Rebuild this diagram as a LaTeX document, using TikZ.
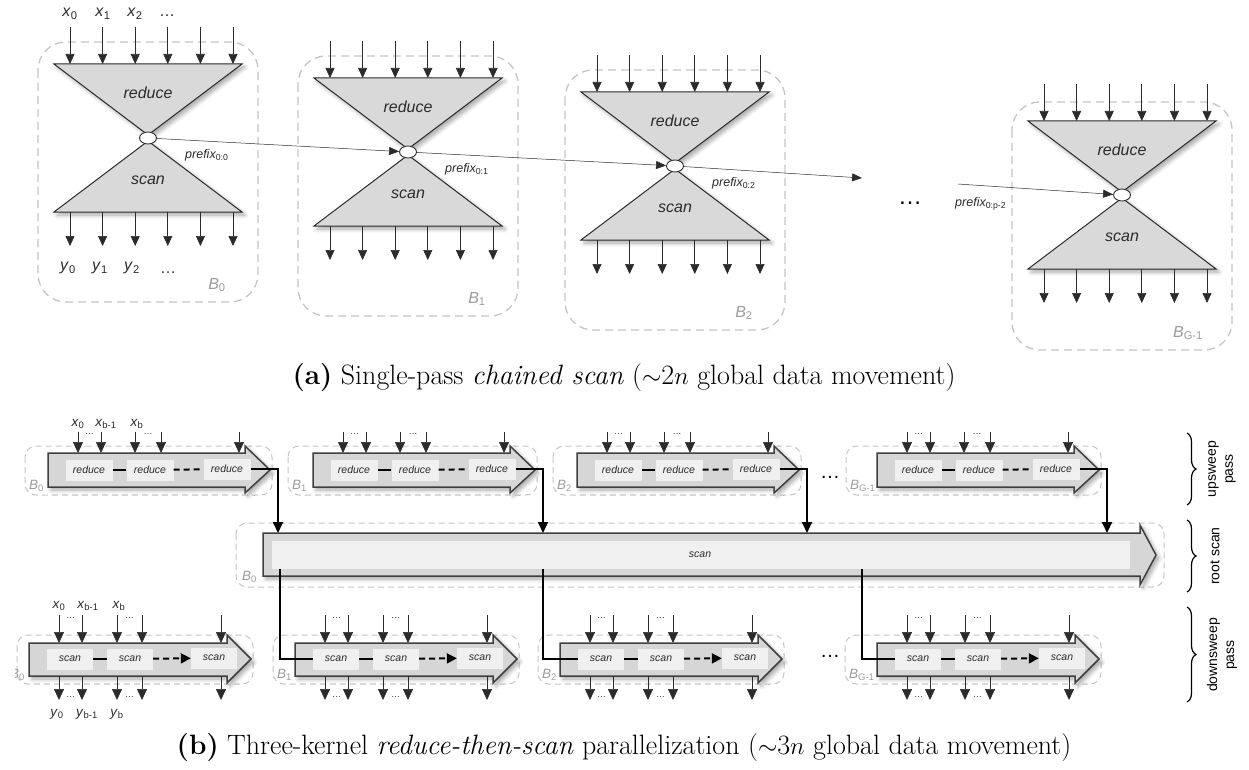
\documentclass[tikz,border=0pt]{standalone}
\usepackage{fontspec}
\newfontfamily\lsans{Liberation Sans}
\usetikzlibrary{arrows.meta,shapes.geometric,decorations.pathreplacing,shadows.blur}

\definecolor{trifill}{HTML}{D9D9D9}
\definecolor{boxgray}{HTML}{C4C4C4}
\definecolor{labgray}{HTML}{9C9C9C}
\definecolor{bodyfill}{HTML}{D6D6D6}
\definecolor{innerfill}{HTML}{F0F0F0}
\definecolor{inkdark}{HTML}{2B2B2B}

\tikzset{
  softshadow/.style={blur shadow={shadow xshift=3pt, shadow yshift=-3pt, shadow blur radius=4pt, shadow blur steps=6, shadow opacity=35}},
  grpA/.style={draw=boxgray, line width=1.3pt, dash pattern=on 8pt off 5pt, rounded corners=28pt},
  grpB/.style={draw=boxgray, line width=1pt, dash pattern=on 6pt off 4pt, rounded corners=11pt},
  tri/.style={fill=trifill, draw=inkdark, line width=1pt, softshadow},
  junction/.style={ellipse, draw=inkdark, fill=white, line width=0.9pt, minimum width=17pt, minimum height=12pt, inner sep=0pt},
  feedA/.style={draw=inkdark, line width=0.7pt, -{Triangle[length=10pt,width=9pt]}},
  chain/.style={draw=inkdark, line width=0.5pt, -{Triangle[length=10pt,width=8pt]}},
  bigit/.style={font=\lsans\itshape\fontsize{16}{19}\selectfont, text=inkdark, inner sep=0pt},
  xlab/.style={font=\lsans\fontsize{16}{19}\selectfont, text=inkdark, inner sep=0pt},
  pflab/.style={font=\lsans\itshape\fontsize{12.5}{14}\selectfont, text=inkdark, inner sep=0pt},
  blabA/.style={font=\lsans\fontsize{16}{19}\selectfont, text=labgray, inner sep=0pt},
  caption/.style={font=\fontsize{28}{34}\selectfont, inner sep=0pt},
  body/.style={fill=bodyfill, draw=black!75, line width=1.5pt, softshadow},
  ibox/.style={rectangle, fill=innerfill, minimum width=47pt, minimum height=21pt, inner sep=0pt, font=\lsans\itshape\fontsize{10.5}{12}\selectfont, text=inkdark},
  feedB/.style={draw=inkdark, line width=0.7pt, -{Triangle[length=11pt,width=10pt]}},
  link/.style={draw=black, line width=2pt},
  dlink/.style={draw=black, line width=2pt, dash pattern=on 6pt off 4pt},
  carry/.style={draw=black, line width=2pt, -{Triangle[length=11pt,width=10pt]}},
  smalllab/.style={font=\lsans\fontsize{13.5}{15}\selectfont, text=inkdark, inner sep=0pt},
  blabB/.style={font=\lsans\fontsize{13.5}{15}\selectfont, text=labgray, inner sep=0pt},
  tinydots/.style={font=\lsans\fontsize{9}{10}\selectfont, text=inkdark, inner sep=0pt},
  gap/.style={font=\lsans\fontsize{20}{22}\selectfont, inner sep=0pt},
  passbrace/.style={draw=black, line width=1.2pt, decorate, decoration={brace, amplitude=9pt}},
  passlab/.style={font=\lsans\fontsize{14}{17}\selectfont, rotate=90, align=center, inner sep=0pt},
}

\begin{document}
\begin{tikzpicture}[x=1pt,y=-1pt]
\useasboundingbox (0,0) rectangle (1249,770);

% ================= (a) single-pass chained scan =================
% \bt/\bb: top and bottom of the dashed block frame, \lx/\ly: block label offset
\foreach \n/\cx/\cy/\sub/\bt/\bb/\lx/\ly in {0/148/138/0/-96/164/69/147, 1/408/152/1/-96/164/69/147, 2/675/166/2/-96/164/69/147, 3/1122/195/G-1/-93/155/66/138}{
  \begin{scope}[shift={(\cx,\cy)}]
    \draw[grpA] (-110,\bt) rectangle (110,\bb);
    \path[tri] (-94,-74) -- (94,-74) -- (0,-3) -- cycle;
    \path[tri] (-94,74) -- (94,74) -- (0,3) -- cycle;
    \node[junction] (c\n) at (0,0) {};
    \node[bigit] (red\n) at (0,-45) {reduce};
    \node[bigit] (scn\n) at (0,42) {scan};
    \foreach \dx in {-78,-45.4,-12.8,19.8,52.4,85}{
      \draw[feedA] (\dx,-111) -- (\dx,-74);
      \draw[feedA] (\dx,74) -- (\dx,108);
    }
    \node[blabA] (blk\n) at (\lx,\ly) {\textit{B}\textsubscript{\sub}};
  \end{scope}
}

% inputs and outputs of the first block
\node[xlab] (xa0) at (70,14) {\textit{x}\textsubscript{0}};
\node[xlab] (xa1) at (103,14) {\textit{x}\textsubscript{1}};
\node[xlab] (xa2) at (135,14) {\textit{x}\textsubscript{2}};
\node[xlab] (xa3) at (167,16) {\ldots};
\node[xlab] (ya0) at (68,268) {\textit{y}\textsubscript{0}};
\node[xlab] (ya1) at (100,268) {\textit{y}\textsubscript{1}};
\node[xlab] (ya2) at (132,268) {\textit{y}\textsubscript{2}};
\node[xlab] (ya3) at (168,273) {\ldots};

% running prefixes passed from block to block
\node[pflab, anchor=west] (pf0) at (185,155) {prefix\textsubscript{\upshape 0:0}};
\node[pflab, anchor=west] (pf1) at (445,169) {prefix\textsubscript{\upshape 0:1}};
\node[pflab, anchor=west] (pf2) at (712,183) {prefix\textsubscript{\upshape 0:2}};
\node[pflab, anchor=west] (pf3) at (955,204) {prefix\textsubscript{\upshape 0:p-2}};

\coordinate (chainout) at (862,178);
\coordinate (chainin) at (958,184);
\draw[chain] (c0) -- (c1);
\draw[chain] (c1) -- (c2);
\draw[chain] (c2) -- (chainout);
\draw[chain] (chainin) -- (c3);
\node[gap, font=\lsans\fontsize{24}{26}\selectfont] (dotsA) at (910,203) {\ldots};

\node[caption] (capa) at (624,378) {\textbf{(a)} Single-pass \textit{chained scan} ($\sim$2$n$ global data movement)};

% ================= (b) reduce-then-scan =================
% root scan kernel
\draw[grpB] (236,523) rectangle (1164,587);
\path[body] (263,533) -- (1140,533) -- (1140,525) -- (1156,555) -- (1140,585) -- (1140,576) -- (263,576) -- cycle;
\fill[innerfill] (272,541) rectangle (1130,569);
\node[font=\lsans\itshape\fontsize{10.5}{12}\selectfont, text=inkdark, inner sep=0pt] (rootscan) at (700,555) {scan};
\node[blabB, anchor=west] (rootB) at (242,577) {\textit{B}\textsubscript{0}};
\coordinate (rout1) at (280,569);
\coordinate (rout2) at (543,569);
\coordinate (rout3) at (862,569);

% upsweep reduction kernel
\foreach \i/\L/\bx/\sub in {0/48/25/0, 1/313/288/1, 2/577/553/2, 3/877/846/G-1}{
  \begin{scope}[shift={(\L,0)}]
    \draw[grpB] ({\bx-\L},446) rectangle (224,495);
    \path[body] (0,453) -- (197,453) -- (197,446) -- (222,470) -- (197,493) -- (197,487) -- (0,487) -- cycle;
    \node[ibox] (ua\i) at (41,470) {reduce};
    \node[ibox] (ub\i) at (102,470) {reduce};
    \node[ibox] (uc\i) at (179,469) {reduce};
    \draw[link] (ua\i) -- (ub\i);
    \draw[dlink] (ub\i) -- (uc\i);
    \foreach \dx in {30,53,87,113,191}{
      \draw[feedB] (\dx,432) -- (\dx,453);
    }
    \node[tinydots] (udA\i) at (41.5,434) {\ldots};
    \node[tinydots] (udB\i) at (100,434) {\ldots};
    \node[blabB, anchor=west] (ubl\i) at ({\bx-\L+4},486) {\textit{B}\textsubscript{\sub}};
    \coordinate (rin\i) at (230,533);
    \draw[carry] (uc\i.east) -| (rin\i);
  \end{scope}
}
\node[smalllab] (xu0) at (78,424) {\textit{x}\textsubscript{0}};
\node[smalllab] (xu1) at (106,424) {\textit{x}\textsubscript{b-1}};
\node[smalllab] (xu2) at (137,424) {\textit{x}\textsubscript{b}};
\node[gap] (dotsU) at (830,477) {\ldots};

% downsweep scan kernel
\foreach \i/\L/\bx/\sub in {0/29/17/0, 1/295/273/1, 2/560/538/2, 3/877/845/G-1}{
  \begin{scope}[shift={(\L,0)}]
    \draw[grpB] ({\bx-\L},635) rectangle (224,684);
    \path[body] (0,643) -- (198,643) -- (198,635) -- (222,659) -- (198,683) -- (198,676) -- (0,676) -- cycle;
    \node[ibox, minimum width=46pt] (da\i) at (41,659) {scan};
    \node[ibox, minimum width=46pt] (db\i) at (101,659) {scan};
    \node[ibox, minimum width=46pt] (dc\i) at (185,658) {scan};
    \draw[link] (da\i) -- (db\i);
    \draw[dlink, -{Triangle[length=10pt,width=10pt]}] (db\i) -- (dc\i);
    \foreach \dx in {30,53,88,113,192}{
      \draw[feedB] (\dx,615) -- (\dx,643);
      \draw[feedB] (\dx,676) -- (\dx,700);
    }
    \node[tinydots] (ddA\i) at (41.5,618) {\ldots};
    \node[tinydots] (ddB\i) at (100.5,618) {\ldots};
    \node[tinydots] (ddC\i) at (41.5,697) {\ldots};
    \node[tinydots] (ddD\i) at (100.5,697) {\ldots};
    \ifnum\i>0
      \node[blabB, anchor=west] (dbl\i) at ({\bx-\L+4},675) {\textit{B}\textsubscript{\sub}};
    \fi
  \end{scope}
}
\begin{scope}
  \clip (15,660) rectangle (60,690);
  \node[blabB, anchor=west] (dbl0) at (10,675) {\textit{B}\textsubscript{0}};
\end{scope}
\node[smalllab] (xd0) at (59,606) {\textit{x}\textsubscript{0}};
\node[smalllab] (xd1) at (88,606) {\textit{x}\textsubscript{b-1}};
\node[smalllab] (xd2) at (119,606) {\textit{x}\textsubscript{b}};
\node[smalllab] (yd0) at (57,714) {\textit{y}\textsubscript{0}};
\node[smalllab] (yd1) at (87,714) {\textit{y}\textsubscript{b-1}};
\node[smalllab] (yd2) at (117,714) {\textit{y}\textsubscript{b}};
\node[gap] (dotsD) at (830,656) {\ldots};

% root prefixes seed each downsweep block
\draw[link] (rout1) |- (da1.west);
\draw[link] (rout2) |- (da2.west);
\draw[link] (rout3) |- (da3.west);

% pass braces
\draw[passbrace] (1187,433) -- (1187,505);
\node[passlab] (lup) at (1222,469) {upsweep\\pass};
\draw[passbrace] (1187,520) -- (1187,592);
\node[passlab] (lroot) at (1215,556) {root scan};
\draw[passbrace] (1187,607) -- (1187,702);
\node[passlab] (ldown) at (1222,655) {downsweep\\pass};

\node[caption] (capb) at (624,748) {\textbf{(b)} Three-kernel \textit{reduce-then-scan} parallelization ($\sim$3$n$ global data movement)};
\end{tikzpicture}
\end{document}
